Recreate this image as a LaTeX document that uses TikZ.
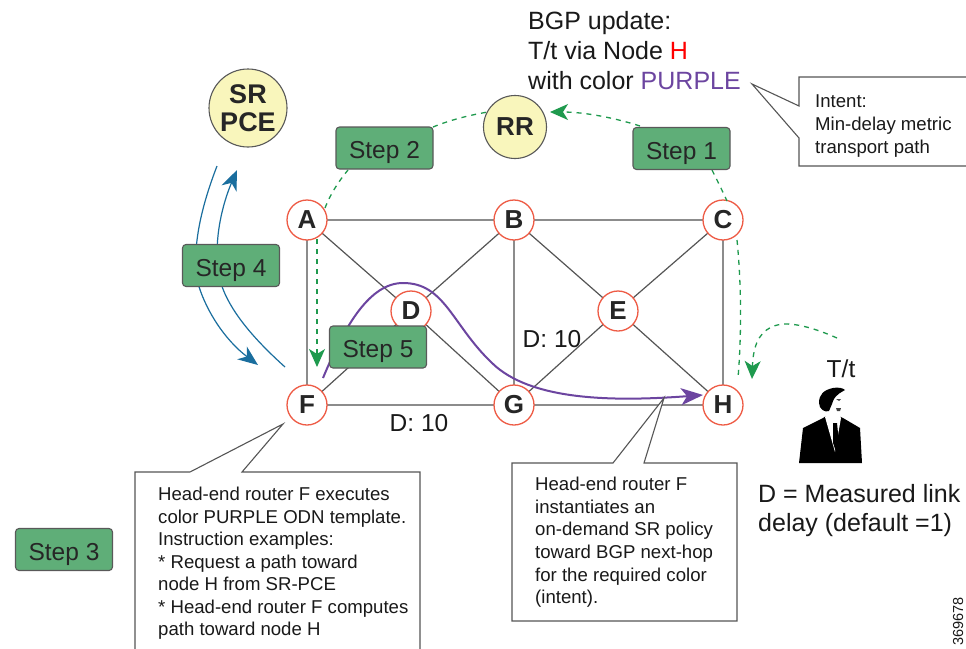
\documentclass[tikz,border=0pt]{standalone}
\usepackage{fontspec}
\setmainfont{Liberation Sans}
\usetikzlibrary{arrows.meta}
\definecolor{stepgreen}{HTML}{5FAE78}
\definecolor{dashgreen}{HTML}{1F9A4E}
\definecolor{flowblue}{HTML}{1A6E9E}
\definecolor{pathpurple}{HTML}{6C45A0}
\definecolor{ringred}{HTML}{EE5B45}
\definecolor{pceyellow}{HTML}{F9F6BC}
\definecolor{inkgray}{HTML}{555555}
\newcommand{\steplabel}[1]{\raisebox{-10.5pt}[0pt][0pt]{#1}}
\tikzset{
  x=1pt,y=-1pt,
  router/.style={circle,draw=ringred,line width=1.3pt,fill=white,minimum size=40pt,inner sep=0pt,font=\fontsize{26}{26}\selectfont\bfseries,text=black!85},
  hub/.style={circle,draw=black!65,line width=1.1pt,fill=pceyellow,inner sep=0pt,align=center,text=black!85},
  stepbox/.style={rectangle,rounded corners=3.5pt,draw=black!65,line width=1.1pt,fill=stepgreen,minimum width=97pt,minimum height=42pt,inner sep=0pt,font=\fontsize{24.5}{24.5}\selectfont,text=black!85},
  link/.style={draw=inkgray,line width=1.2pt},
  hlink/.style={draw=black!45,line width=1.6pt},
  callout/.style={draw=inkgray,line width=1.1pt,fill=white,line join=miter},
  calltext/.style={inner sep=0pt,anchor=north west,align=left,text=black!90},
  greendash/.style={draw=dashgreen,line width=1.3pt,dash pattern=on 5pt off 5pt},
  greenarrow/.style={greendash,-{Stealth[length=18pt,width=16pt,inset=5pt,fill=dashgreen]}},
  bluecurve/.style={draw=flowblue,line width=1.2pt},
  bluearrow/.style={bluecurve,-{Stealth[length=20pt,width=16pt,inset=6pt]}},
  plain/.style={inner sep=0pt,text=black!90},
}
\begin{document}
\begin{tikzpicture}
\useasboundingbox (0,0) rectangle (966,648);
\fill[white] (0,0) rectangle (966,648);

\path
  (307,220) coordinate (pA) (514,220) coordinate (pB) (723,220) coordinate (pC)
  (411,311) coordinate (pD) (618,311) coordinate (pE)
  (307,405) coordinate (pF) (514,405) coordinate (pG) (723,405) coordinate (pH);

% links
\draw[hlink] (pA)--(pB) (pB)--(pC) (pF)--(pG) (pG)--(pH) (pB)--(pG) (pC)--(pH) (pA)--(pF);
\draw[link] (pA)--(pD) (pD)--(pG) (pD)--(pB) (pF)--(pD) (pB)--(pE) (pE)--(pH) (pC)--(pE) (pE)--(pG);

% policy path
\coordinate (purpleStart) at (323,378);
\coordinate (purpleEnd) at (703,395);
\draw[pathpurple,line width=2pt,-{Stealth[length=22pt,width=17pt,inset=6pt]}]
  (purpleStart) .. controls (345,325) and (370,283) .. (403,283)
  .. controls (445,283) and (452,325) .. (492,363)
  .. controls (530,400) and (610,402) .. (purpleEnd);

\node[router] (A) at (pA) {A};
\node[router] (B) at (pB) {B};
\node[router] (C) at (pC) {C};
\node[router] (D) at (pD) {D};
\node[router] (E) at (pE) {E};
\node[router] (F) at (pF) {F};
\node[router] (G) at (pG) {G};
\node[router] (H) at (pH) {H};

% hubs
\node[hub,minimum size=78pt,font=\fontsize{27}{27}\selectfont\bfseries] (PCE) at (248,108) {SR\\[1pt]PCE};
\node[hub,minimum size=63pt,font=\fontsize{26}{26}\selectfont\bfseries] (RR) at (515,127) {RR};

% blue flows
\coordinate (b1s) at (217,166);
\coordinate (b1e) at (258,365);
\coordinate (b2s) at (285,367);
\coordinate (b2e) at (237,170);
\draw[bluearrow] (b1s) .. controls (202,205) and (192,245) .. (197,280) .. controls (205,310) and (225,340) .. (b1e);
\draw[bluearrow] (b2s) .. controls (255,340) and (228,310) .. (220,280) .. controls (212,245) and (222,205) .. (b2e);

% green dashed flows
\coordinate (rrFrom) at (640,126);
\coordinate (rrTo) at (550,112);
\coordinate (s2top) at (433,127);
\coordinate (s2bot) at (348,170);
\coordinate (aTop) at (325,208);
\coordinate (s1bot) at (712,170);
\coordinate (cTop) at (727,201);
\coordinate (aDown) at (317,239);
\coordinate (fUp) at (317,367);
\coordinate (cDown) at (737,240);
\coordinate (hUp) at (738,378);
\coordinate (ttFrom) at (837,338);
\coordinate (ttTo) at (752,379);
\draw[greenarrow] (rrFrom) .. controls (615,118) and (585,112) .. (rrTo);
\draw[greendash] (s2top) .. controls (450,120) and (470,115) .. (488,112);
\draw[greendash] (aTop) .. controls (330,195) and (338,182) .. (s2bot);
\draw[greendash] (s1bot) .. controls (717,180) and (722,190) .. (cTop);
\draw[greenarrow] (aDown) -- (fUp);
\draw[greendash] (cDown) .. controls (741,280) and (742,330) .. (hUp);
\draw[greenarrow] (ttFrom) .. controls (810,326) and (785,320) .. (772,327) .. controls (757,333) and (753,350) .. (ttTo);

% steps
\node[stepbox] (s1) at (681.5,148.5) {\steplabel{Step 1}};
\node[stepbox] (s2) at (384.5,148) {\steplabel{Step 2}};
\node[stepbox] (s3) at (64,549.5) {\steplabel{Step 3}};
\node[stepbox] (s4) at (231,265.5) {\steplabel{Step 4}};
\node[stepbox] (s5) at (378,347) {\steplabel{Step 5}};

% top text
\node[plain,anchor=north west,align=left,font=\fontsize{25}{30}\selectfont] (bgp) at (528,11)
  {BGP update:\\T/t via Node {\color{red}H}\\with color {\color{pathpurple}PURPLE}};

% callouts
\draw[callout] (967,77) -- (799,77) -- (799,106) -- (752,84) -- (799,138) -- (799,166) -- (967,166);
\node[calltext,font=\fontsize{18.6}{22.6}\selectfont] (intent) at (815,95)
  {Intent:\\Min-delay metric\\transport path};

\draw[callout] (135,650) -- (135,472) -- (190,472) -- (283,424) -- (242,472) -- (420,472) -- (420,650);
\node[calltext,font=\fontsize{18.6}{22.5}\selectfont] (headA) at (158,487)
  {Head-end router F executes\\color PURPLE ODN template.\\Instruction examples:\\* Request a path toward\\node H from SR-PCE\\* Head-end router F computes\\path toward node H};

\draw[callout] (512,463) -- (613,463) -- (664,398) -- (644,463) -- (737,463) -- (737,621) -- (512,621) -- cycle;
\node[calltext,font=\fontsize{18.6}{22.6}\selectfont] (headB) at (535,477)
  {Head-end router F\\instantiates an\\on-demand SR policy\\toward BGP next-hop\\for the required color\\(intent).};

% link labels
\node[plain,font=\fontsize{24.5}{24.5}\selectfont] (d1) at (419,423) {D: 10};
\node[plain,font=\fontsize{24.5}{24.5}\selectfont] (d2) at (552,339) {D: 10};
\node[plain,font=\fontsize{24.5}{24.5}\selectfont] (tt) at (841,369) {T/t};
\node[plain,anchor=north west,align=left,font=\fontsize{25}{29}\selectfont] (dnote) at (758,484)
  {D = Measured link\\delay (default =1)};
\node[plain,rotate=90,anchor=west,font=\fontsize{14.5}{14.5}\selectfont] (figno) at (958,646) {369678};

% person
\fill[black] (799,463) -- (803,428) -- (823,418) -- (826,416) -- (841,417) -- (843,418) -- (860,428) -- (862,463) -- cycle;
\fill[white] (825,417) -- (835,452) -- (841,418) -- (838,413) -- (828,412) -- cycle;
\fill[black] (833,423) -- (837,423) -- (839,443) -- (836,452) -- (833,443) -- cycle;
\fill[black] (819,403) .. controls (819,394) and (824,390) .. (833,388) .. controls (838,387) and (843,388) .. (845,390)
  .. controls (842,392) and (836,394) .. (833,401) .. controls (832,405) and (830,408) .. (829,411)
  .. controls (825,413) and (819,409) .. (819,403) -- cycle;
\fill[black!70] (836,399) -- (841,399) -- (839,401) -- cycle;
\fill[black!75] (836,408) -- (841,408) -- (840,411) -- (837,411) -- cycle;
\end{tikzpicture}
\end{document}
